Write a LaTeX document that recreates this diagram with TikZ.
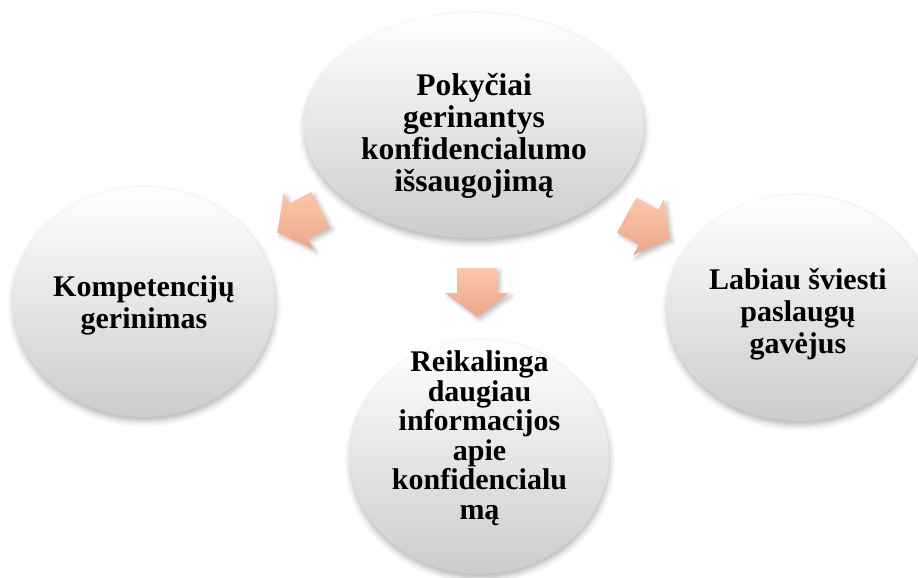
\documentclass[tikz,border=0pt]{standalone}
\usepackage{fontspec}
\setmainfont{Liberation Serif}[Ligatures=NoCommon]
\usetikzlibrary{shapes.geometric,shadows.blur}

\definecolor{discTop}{RGB}{255,255,255}
\definecolor{discMid}{RGB}{236,236,236}
\definecolor{discBottom}{RGB}{204,204,204}
\definecolor{arrowTop}{RGB}{253,198,168}
\definecolor{arrowBottom}{RGB}{234,168,140}

\tikzset{
  disc/.style={ellipse, draw=none, inner sep=0pt,
    top color=discTop, middle color=discMid, bottom color=discBottom,
    blur shadow={shadow xshift=0.5pt, shadow yshift=-4pt,
                 shadow blur radius=6pt, shadow opacity=30}},
  disctext/.style={font=\fontsize{30}{32}\selectfont\bfseries,
    align=center, text=black, inner sep=0pt},
  arrowbody/.style={draw=none, top color=arrowTop, bottom color=arrowBottom,
    blur shadow={shadow xshift=3pt, shadow yshift=-3pt,
                 shadow blur radius=4pt, shadow opacity=25}},
  pics/blockarrow/.style={code={
    \path[arrowbody] (-24.5,-20) -- (0.5,-20) -- (0.5,-32) -- (24.5,0)
      -- (0.5,32) -- (0.5,20) -- (-24.5,20) -- cycle;
  }}
}

\begin{document}
\begin{tikzpicture}[x=1pt,y=-1pt]
  \useasboundingbox (0,0) rectangle (918,578);

  % circles
  \node[disc, minimum width=340pt, minimum height=225pt] (top) at (474,125.5) {};
  \node[disc, minimum width=262pt, minimum height=230pt] (left) at (144,302) {};
  \node[disc, minimum width=262pt, minimum height=226pt] (right) at (798,308) {};
  \node[disc, minimum width=259pt, minimum height=234pt] (bottom) at (479.5,457) {};

  % arrows
  \pic[rotate=-152] (arrowL) at (299,221) {blockarrow};
  \pic[rotate=-90] (arrowD) at (477,292.5) {blockarrow};
  \pic[rotate=-29] (arrowR) at (648,227) {blockarrow};

  % labels
  \node[disctext, font=\fontsize{31.5}{32}\selectfont\bfseries] (topText)
    at ([yshift=-10pt]top.center)
    {Pokyčiai\\gerinantys\\konfidencialumo\\išsaugojimą};
  \node[disctext] (leftText) at ([yshift=-3pt]left.center)
    {Kompetencijų\\gerinimas};
  \node[disctext] (rightText) at ([yshift=-6pt]right.center)
    {Labiau šviesti\\paslaugų\\gavėjus};
  \node[disctext, font=\fontsize{30}{29.5}\selectfont\bfseries] (bottomText)
    at ([yshift=19pt]bottom.center)
    {Reikalinga\\daugiau\\informacijos\\apie\\konfidencialu\\mą};
\end{tikzpicture}
\end{document}
